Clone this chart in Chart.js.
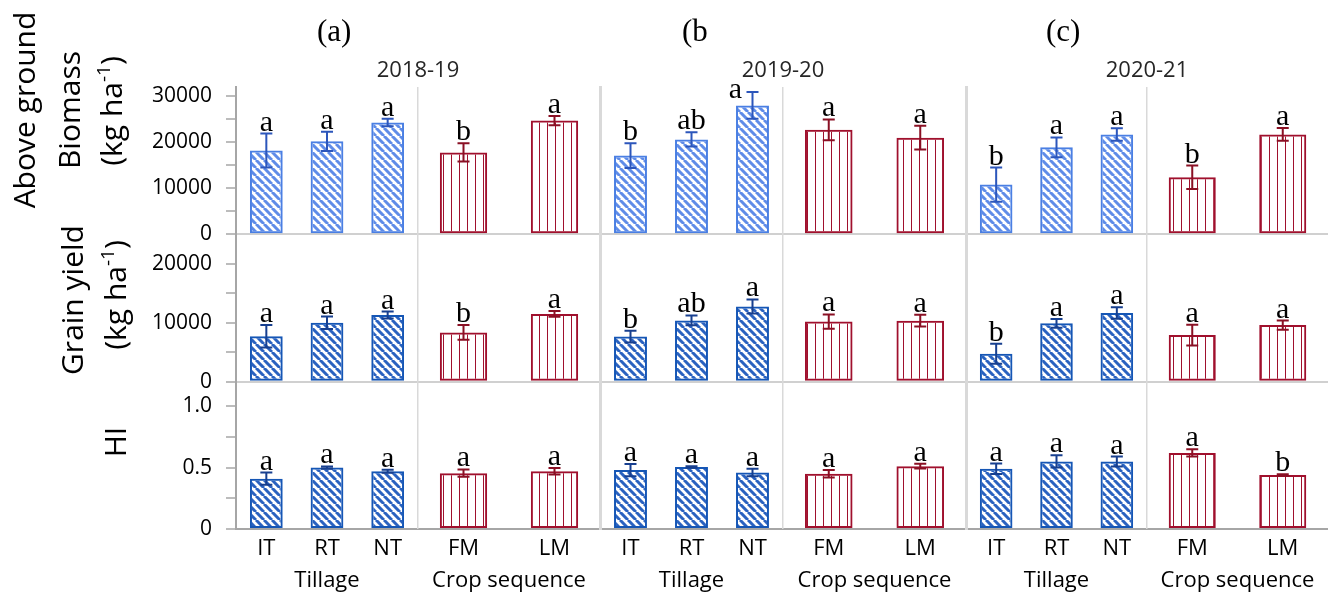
<!DOCTYPE html>
<html>
<head>
<meta charset="utf-8">
<script src="https://cdn.jsdelivr.net/npm/chart.js@4.4.1/dist/chart.umd.min.js"></script>
<style>
  body { margin: 0; background: #fff; }
  #fig { position: relative; width: 1328px; height: 594px; overflow: hidden; }
  #fig canvas { position: absolute; top: 0; }
  .tag { position: absolute; top: 13px; font: 31px "Liberation Serif"; line-height: 36px; color: #000; white-space: nowrap; }
  .yr { position: absolute; top: 54px; font: 22px "Open Sans"; line-height: 28px; color: #262626; transform: translateX(-50%); white-space: nowrap; }
</style>
</head>
<body>
<div id="fig"></div>
<script>
// ---- data ----
const years = ['2018-19', '2019-20', '2020-21'];
const panelTags = ['(a)', '(b', '(c)'];
const tillageLabels = ['IT', 'RT', 'NT'];
const cropLabels = ['FM', 'LM'];

// tick values of the three rows
const biomassTicks = [0, 5000, 10000, 15000, 20000, 25000, 30000];
const grainTicks = [0, 5000, 10000, 15000, 20000];
const hiTicks = [0, 0.25, 0.5, 0.75, 1.0];

// above ground biomass (kg ha-1), one inner list per year
const biomassTillage = [[18200, 20200, 24300], [17100, 20600, 28000], [10800, 18900, 21700]];
const biomassTillageErr = [[3700, 2100, 800], [2700, 1550, 2900], [3700, 2150, 1350]];
const biomassTillageSig = [['a', 'a', 'a'], ['b', 'ab', 'a'], ['b', 'a', 'a']];
const biomassCrop = [[17800, 24700], [22700, 21000], [12400, 21700]];
const biomassCropErr = [[2000, 1000], [2250, 2600], [2550, 1400]];
const biomassCropSig = [['b', 'a'], ['a', 'a'], ['b', 'a']];

// grain yield (kg ha-1)
const grainTillage = [[7700, 10000, 11300], [7650, 10400, 12750], [4750, 9900, 11650]];
const grainTillageErr = [[1900, 1050, 600], [1000, 830, 1200], [1700, 750, 970]];
const grainTillageSig = [['a', 'a', 'a'], ['b', 'ab', 'a'], ['b', 'a', 'a']];
const grainCrop = [[8350, 11500], [10200, 10350], [7900, 9600]];
const grainCropErr = [[1250, 500], [1200, 1000], [1750, 770]];
const grainCropSig = [['b', 'a'], ['a', 'a'], ['a', 'a']];

// harvest index
const hiTillage = [[0.41, 0.50, 0.47], [0.48, 0.505, 0.46], [0.49, 0.55, 0.55]];
const hiTillageErr = [[0.05, 0.01, 0.012], [0.05, 0.006, 0.03], [0.043, 0.05, 0.04]];
const hiTillageSig = [['a', 'a', 'a'], ['a', 'a', 'a'], ['a', 'a', 'a']];
const hiCrop = [[0.455, 0.47], [0.45, 0.512], [0.62, 0.44]];
const hiCropErr = [[0.03, 0.027], [0.03, 0.02], [0.03, 0.006]];
const hiCropSig = [['a', 'a'], ['a', 'a'], ['a', 'b']];

// ---- look ----
const SANS = '"Open Sans", "Noto Sans", sans-serif';
const SERIF = '"Liberation Serif", serif';
const CLEAR = 'rgba(0,0,0,0)';

function stripes(color) {
  const c = document.createElement('canvas');
  c.width = 8; c.height = 8;
  const g = c.getContext('2d');
  g.strokeStyle = color;
  g.lineWidth = 3;
  g.beginPath();
  for (const o of [-8, 0, 8]) { g.moveTo(o, 0); g.lineTo(o + 8, 8); }
  g.stroke();
  return g.createPattern(c, 'repeat');
}
function vlines(color) {
  const c = document.createElement('canvas');
  c.width = 8; c.height = 4;
  const g = c.getContext('2d');
  g.fillStyle = color;
  g.fillRect(3, 0, 1, 4);
  return g.createPattern(c, 'repeat');
}
const blueLight = stripes('#5f8ce8');
const blueDark = stripes('#2a62c0');
const redLines = vlines('#a0102d');

// error bars and significance letters
const errorBars = {
  id: 'errorBars',
  afterDatasetsDraw(chart) {
    const { ctx, chartArea } = chart;
    chart.data.datasets.forEach((ds, di) => {
      const meta = chart.getDatasetMeta(di);
      const ys = chart.scales[ds.yAxisID];
      meta.data.forEach((bar, i) => {
        const v = ds.data[i], e = ds.errors[i];
        const top = ys.getPixelForValue(v + e);
        const bot = ys.getPixelForValue(v - e);
        const x = bar.x;
        ctx.save();
        ctx.strokeStyle = ds.errColor;
        ctx.lineWidth = 2;
        ctx.beginPath();
        ctx.moveTo(x, top); ctx.lineTo(x, bot);
        ctx.moveTo(x - 6, top); ctx.lineTo(x + 6, top);
        ctx.moveTo(x - 6, bot); ctx.lineTo(x + 6, bot);
        ctx.stroke();
        ctx.fillStyle = '#000';
        ctx.font = '30px ' + SERIF;
        ctx.textAlign = 'center';
        ctx.textBaseline = 'alphabetic';
        let lx = x, ly = top - 3;
        if (ly - 15 < chartArea.top) { lx = x - 17; ly = top + 6; }
        ctx.fillText(ds.sig[i], lx, ly);
        ctx.restore();
      });
    });
  }
};

// rotated y titles with superscript
const yTitleLines = [
  { x: 35, y: 110, parts: [['Above ground']] },
  { x: 80, y: 110, parts: [['Biomass']] },
  { x: 122, y: 111, parts: [['(kg ha'], ['-1', true], [')']] },
  { x: 83, y: 300, parts: [['Grain yield']] },
  { x: 126, y: 295, parts: [['(kg ha'], ['-1', true], [')']] },
  { x: 126, y: 442, parts: [['HI']] }
];
const yTitles = {
  id: 'yTitles',
  afterDraw(chart) {
    const ctx = chart.ctx;
    yTitleLines.forEach(line => {
      ctx.save();
      ctx.translate(line.x, line.y);
      ctx.rotate(-Math.PI / 2);
      ctx.fillStyle = '#000';
      ctx.textBaseline = 'alphabetic';
      ctx.textAlign = 'left';
      let total = 0;
      const widths = line.parts.map(([t, sup]) => {
        ctx.font = (sup ? '19px ' : '30px ') + SANS;
        const w = ctx.measureText(t).width;
        total += w;
        return w;
      });
      let px = -total / 2;
      line.parts.forEach(([t, sup], k) => {
        ctx.font = (sup ? '19px ' : '30px ') + SANS;
        ctx.fillText(t, px, sup ? -12 : 0);
        px += widths[k];
      });
      ctx.restore();
    });
  }
};

// ---- build one chart per year ----
const columns = [
  { left: 0, width: 600, pad: 0, yWidth: 236 },
  { left: 596, width: 370, pad: 4, yWidth: 0 },
  { left: 962, width: 366, pad: 4, yWidth: 0 }
];
const fig = document.getElementById('fig');

function noPad(s) { s.paddingLeft = 0; s.paddingRight = 0; s.paddingTop = 0; s.paddingBottom = 0; }

function yAxis(max, tickValues, weight, first, zeroColor, fmt, yWidth) {
  return {
    type: 'linear', position: 'left', stack: 'rows', stackWeight: 1, weight: weight,
    min: 0, max: max,
    afterBuildTicks: s => { s.ticks = tickValues.map(v => ({ value: v })); },
    ticks: {
      display: first, autoSkip: false,
      padding: 14, color: '#000', font: { family: SANS, size: 21 }, callback: fmt
    },
    grid: {
      drawTicks: first, tickLength: 10, tickColor: '#a6a6a6', tickWidth: 1.5,
      lineWidth: 2,
      color: c => (c.tick && c.tick.value === 0 ? zeroColor : CLEAR)
    },
    border: { display: true, color: first ? '#a6a6a6' : '#d9d9d9', width: first ? 2 : 3 },
    afterFit: s => { s.width = yWidth; noPad(s); }
  };
}
function xAxis(labels, title, divider) {
  return {
    type: 'category', labels: labels, position: 'bottom', stack: 'cols', stackWeight: 1,
    offset: true,
    grid: { offset: true, drawTicks: false, lineWidth: 1.5, color: c => (divider && c.index === 0 ? '#d9d9d9' : CLEAR) },
    border: { display: false },
    ticks: { padding: 7, color: '#000', autoSkip: false, maxRotation: 0, font: { family: SANS, size: 22 } },
    title: { display: true, text: title, color: '#000', padding: { top: 0, bottom: 0 }, font: { family: SANS, size: 22 } },
    afterFit: s => { s.height = 65; noPad(s); }
  };
}
const fmtBig = v => (v % 10000 === 0 ? String(v) : '');
const fmtHI = v => (v === 0 ? '0' : (Math.abs(v * 2 - Math.round(v * 2)) < 1e-9 ? v.toFixed(1) : ''));

function bars(data, errors, sig, xId, yId, fill, border, errColor, pct) {
  return {
    data: data, errors: errors, sig: sig, xAxisID: xId, yAxisID: yId,
    backgroundColor: fill, borderColor: border, borderWidth: 2, borderSkipped: false,
    errColor: errColor, barPercentage: pct, categoryPercentage: 1, grouped: false
  };
}

columns.forEach((col, c) => {
  const cv = document.createElement('canvas');
  cv.width = col.width; cv.height = 594;
  cv.style.left = col.left + 'px';
  fig.appendChild(cv);
  const first = c === 0;
  const ch = new Chart(cv, {
    type: 'bar',
    data: {
      datasets: [
        bars(biomassTillage[c], biomassTillageErr[c], biomassTillageSig[c], 'xt', 'bio', blueLight, '#4a7fe3', '#2c56bb', 0.54),
        bars(grainTillage[c], grainTillageErr[c], grainTillageSig[c], 'xt', 'grain', blueDark, '#1556b5', '#173f8f', 0.54),
        bars(hiTillage[c], hiTillageErr[c], hiTillageSig[c], 'xt', 'hi', blueDark, '#1556b5', '#173f8f', 0.54),
        bars(biomassCrop[c], biomassCropErr[c], biomassCropSig[c], 'xc', 'bio', redLines, '#a0102d', '#8a1024', 0.52),
        bars(grainCrop[c], grainCropErr[c], grainCropSig[c], 'xc', 'grain', redLines, '#a0102d', '#8a1024', 0.52),
        bars(hiCrop[c], hiCropErr[c], hiCropSig[c], 'xc', 'hi', redLines, '#a0102d', '#8a1024', 0.52)
      ]
    },
    options: {
      responsive: false,
      animation: false,
      layout: { padding: { left: col.pad, top: 87, right: 0, bottom: 0 } },
      plugins: { legend: { display: false }, tooltip: { enabled: false } },
      scales: {
        bio: yAxis(32000, biomassTicks, 3, first, '#d0d0d0', fmtBig, col.yWidth),
        grain: yAxis(25000, grainTicks, 2, first, '#d0d0d0', fmtBig, col.yWidth),
        hi: yAxis(1.2, hiTicks, 1, first, '#a6a6a6', fmtHI, col.yWidth),
        xt: xAxis(tillageLabels, 'Tillage', false),
        xc: xAxis(cropLabels, 'Crop sequence', true)
      }
    },
    plugins: first ? [errorBars, yTitles] : [errorBars]
  });

  // column headings placed over the middle of each chart area
  const mid = col.left + (ch.chartArea.left + ch.chartArea.right) / 2;
  const yr = document.createElement('div');
  yr.className = 'yr';
  yr.textContent = years[c];
  yr.style.left = mid + 'px';
  fig.appendChild(yr);
  const tag = document.createElement('div');
  tag.className = 'tag';
  tag.textContent = panelTags[c];
  tag.style.left = (mid - 101) + 'px';
  fig.appendChild(tag);
});
</script>
</body>
</html>
